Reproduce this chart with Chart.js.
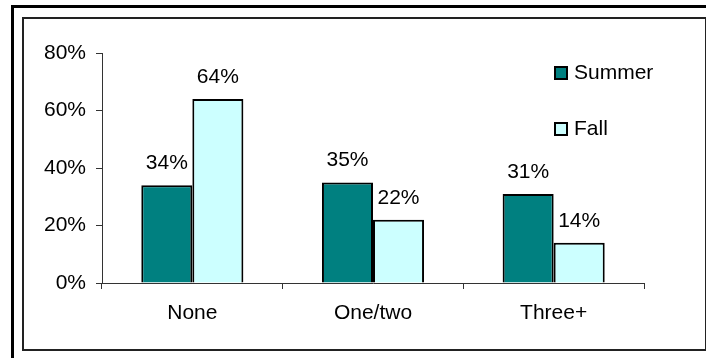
<!DOCTYPE html>
<html>
<head>
<meta charset="utf-8">
<script src="https://cdn.jsdelivr.net/npm/chart.js@4"></script>
<style>
  html, body { margin: 0; padding: 0; background: #fff; }
  #wrap { position: relative; width: 706px; height: 358px; overflow: hidden; }
  #outer { position: absolute; left: 11px; top: 5px; width: 720px; height: 380px; border: 3px solid #000; }
  #inner { position: absolute; left: 22px; top: 17px; width: 681px; height: 330px; border: 2px solid #222; }
  canvas { position: absolute; left: 0; top: 0; }
</style>
</head>
<body>
<div id="wrap">
  <div id="outer"></div>
  <div id="inner"></div>
  <canvas id="grafico" width="706" height="358"></canvas>
</div>
<script>
const categorias = ['None', 'One/two', 'Three+'];
const verano = [34, 35, 31];
const otono = [64, 22, 14];
const nombres = ['Summer', 'Fall'];
const colores = ['#008080', '#CCFFFF'];

const fuente = "'Liberation Sans', Arial, sans-serif";

// etiquetas encima de cada barra
const etiquetas = {
  id: 'etiquetas',
  afterDatasetsDraw(chart) {
    const ctx = chart.ctx;
    ctx.save();
    ctx.font = '21px ' + fuente;
    ctx.fillStyle = '#000';
    ctx.textAlign = 'center';
    ctx.textBaseline = 'alphabetic';
    chart.data.datasets.forEach((ds, i) => {
      chart.getDatasetMeta(i).data.forEach((bar, j) => {
        ctx.fillText(ds.data[j] + '%', bar.x, bar.y - 16);
      });
    });
    ctx.restore();
  }
};

// leyenda dibujada a mano
const leyenda = {
  id: 'leyenda',
  afterDraw(chart) {
    const ctx = chart.ctx;
    ctx.save();
    ctx.font = '21px ' + fuente;
    ctx.textBaseline = 'middle';
    ctx.textAlign = 'left';
    chart.data.datasets.forEach((ds, i) => {
      const y = 66 + i * 56;
      ctx.fillStyle = ds.backgroundColor;
      ctx.fillRect(555, y + 1, 12, 12);
      ctx.strokeStyle = '#000';
      ctx.lineWidth = 2;
      ctx.strokeRect(555, y + 1, 12, 12);
      ctx.fillStyle = '#000';
      ctx.fillText(ds.label, 574, y + 7);
    });
    ctx.restore();
  }
};

new Chart(document.getElementById('grafico'), {
  type: 'bar',
  data: {
    labels: categorias,
    datasets: [
      { label: nombres[0], data: verano, backgroundColor: colores[0], borderColor: '#000', borderWidth: 2 },
      { label: nombres[1], data: otono, backgroundColor: colores[1], borderColor: '#000', borderWidth: 2 }
    ]
  },
  options: {
    responsive: false,
    animation: false,
    layout: { padding: { top: 53, right: 62, left: 0, bottom: 0 } },
    plugins: { legend: { display: false }, tooltip: { enabled: false } },
    datasets: { bar: { categoryPercentage: 0.565, barPercentage: 1 } },
    scales: {
      x: {
        grid: { offset: true, drawOnChartArea: false, drawTicks: true, tickLength: 6, color: '#333' },
        border: { color: '#333', width: 1 },
        ticks: { color: '#000', font: { family: fuente, size: 21 }, padding: 12 },
        afterFit(s) { s.height = 75; }
      },
      y: {
        min: 0,
        max: 80,
        grid: { drawOnChartArea: false, drawTicks: true, tickLength: 6, color: '#333' },
        border: { color: '#333', width: 1 },
        ticks: { stepSize: 20, color: '#000', font: { family: fuente, size: 21 }, padding: 10,
          callback: v => v + '%' },
        afterFit(s) { s.width = 102; }
      }
    }
  },
  plugins: [etiquetas, leyenda]
});
</script>
</body>
</html>
